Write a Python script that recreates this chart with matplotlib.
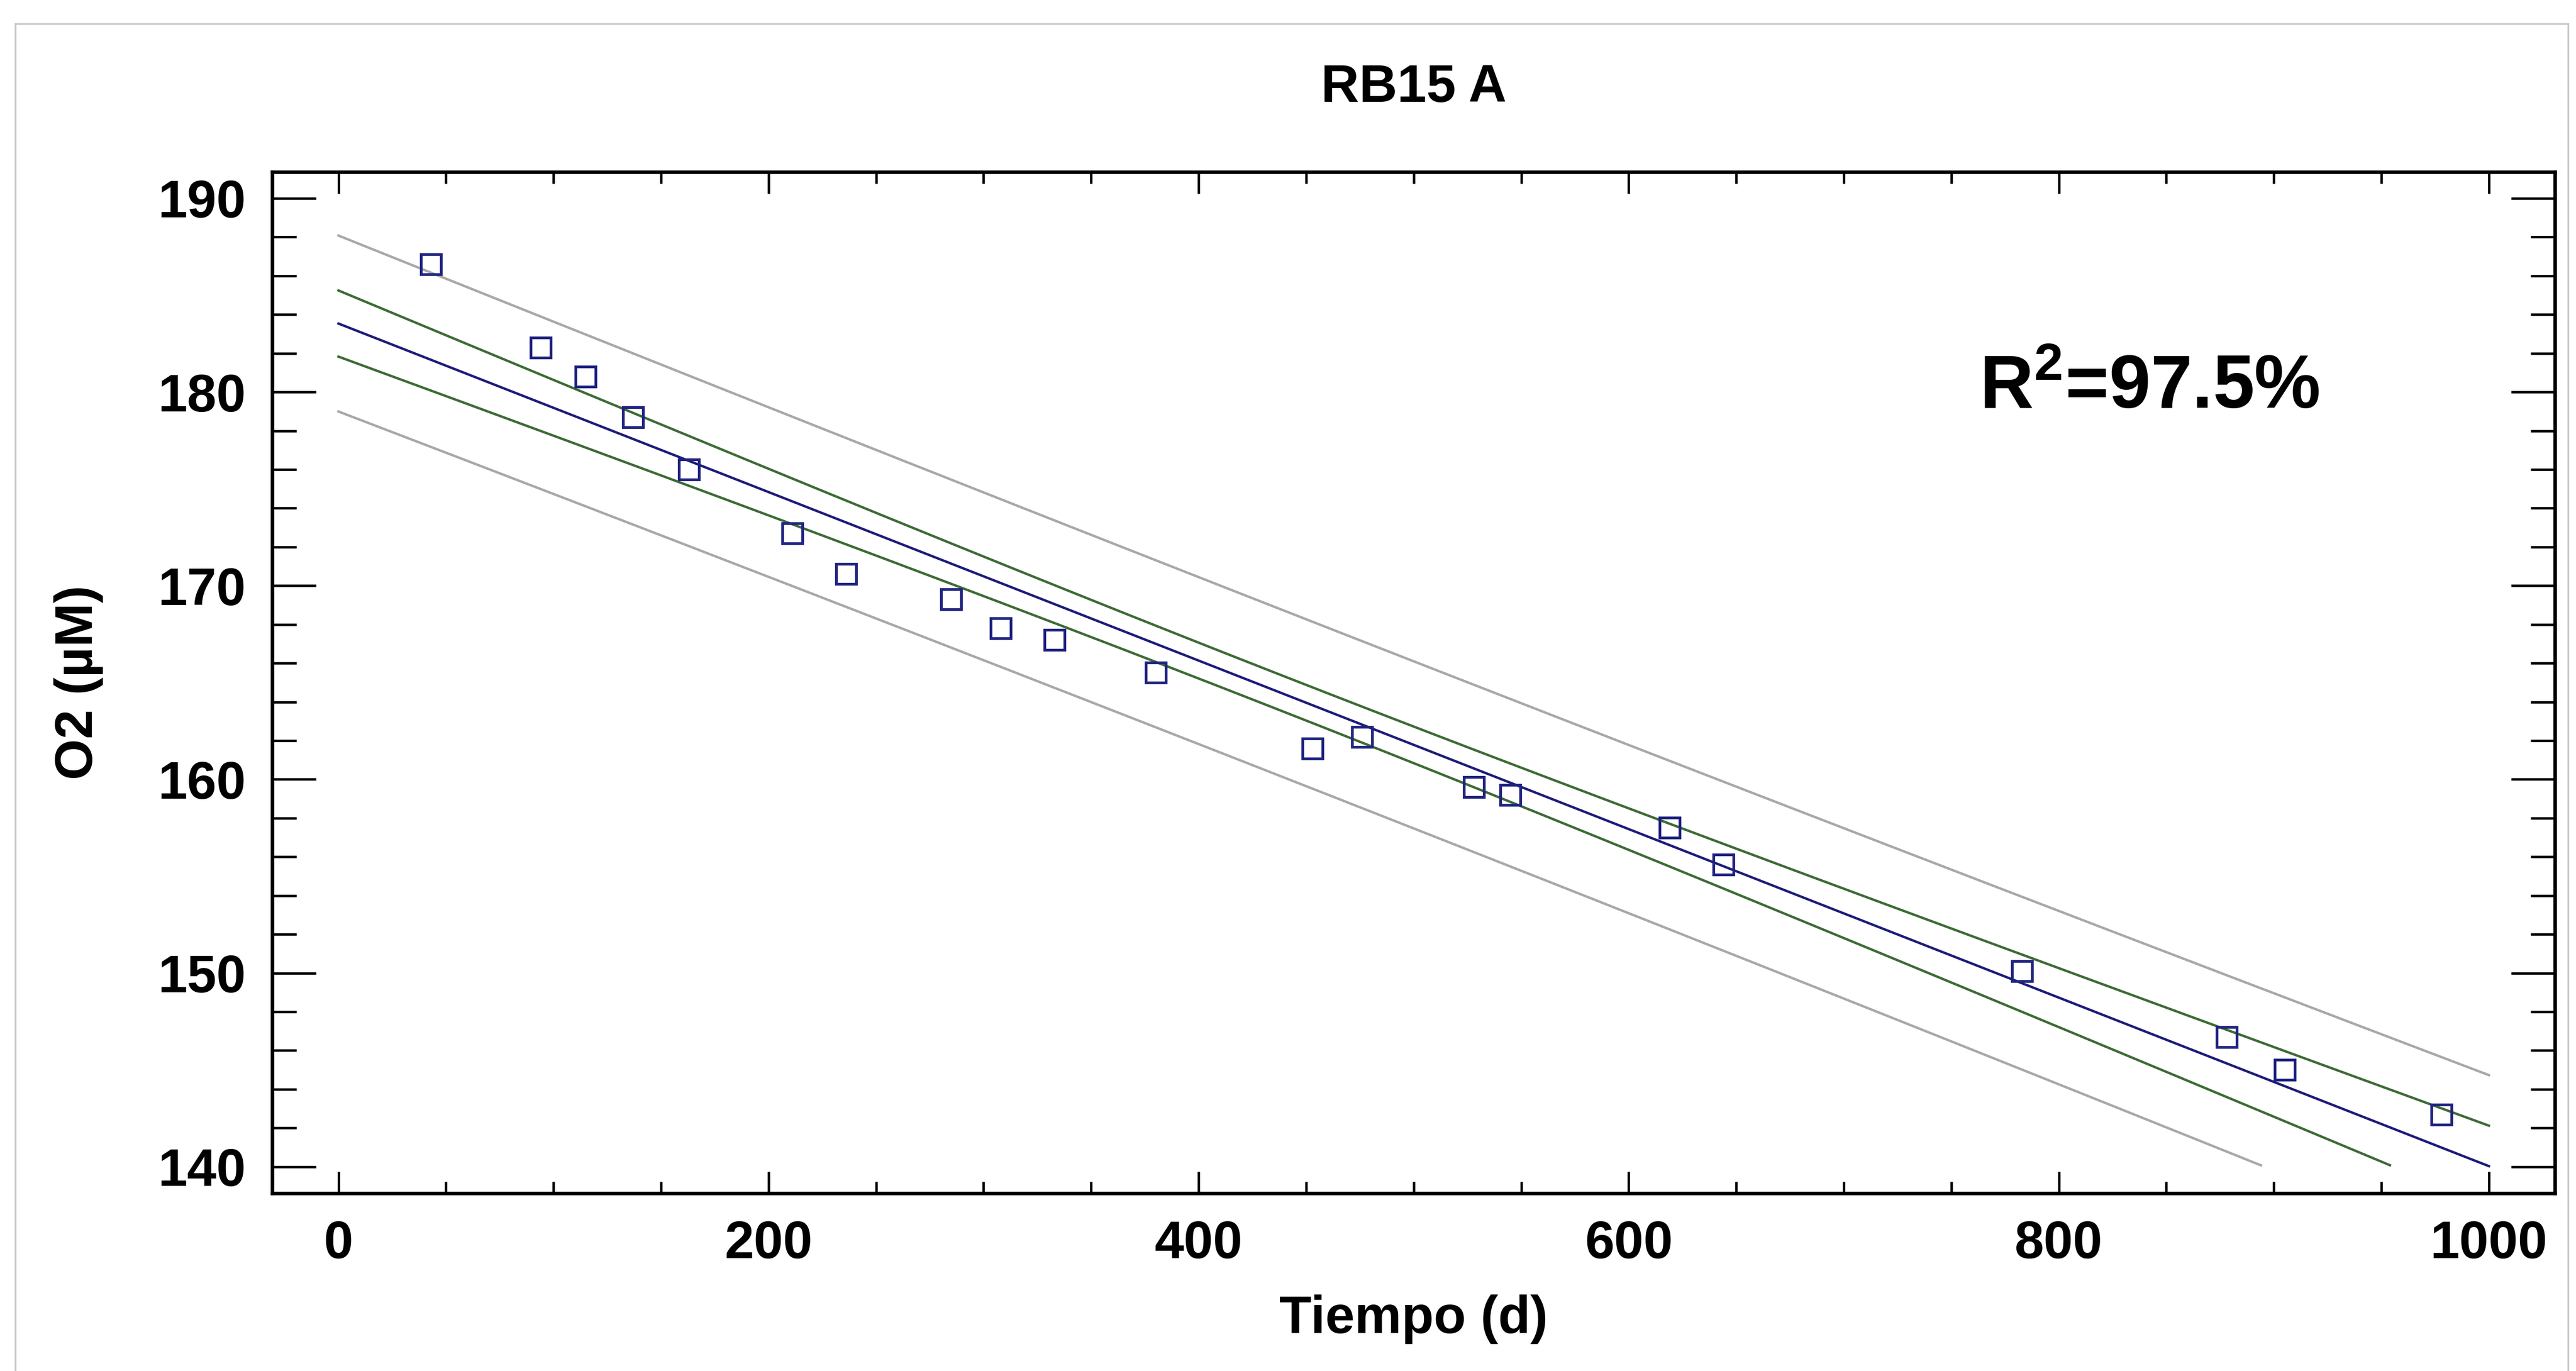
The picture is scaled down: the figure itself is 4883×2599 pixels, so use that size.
import numpy as np
import matplotlib
matplotlib.use("Agg")
import matplotlib.pyplot as plt
from matplotlib.patches import Rectangle
from matplotlib.ticker import MultipleLocator

plt.rcParams["font.family"] = ["Liberation Sans", "DejaVu Sans"]
plt.rcParams["font.weight"] = "bold"
plt.rcParams["mathtext.fontset"] = "custom"
plt.rcParams["mathtext.rm"] = "Liberation Sans:bold"
plt.rcParams["mathtext.it"] = "Liberation Sans:bold"
plt.rcParams["mathtext.bf"] = "Liberation Sans:bold"

# datos
titulo = "RB15 A"
tiempo = [43, 94, 115, 137, 163, 211, 236, 285, 308, 333, 380,
          453, 476, 528, 545, 619, 644, 783, 878, 905, 978]
o2 = [186.6, 182.3, 180.8, 178.7, 176.0, 172.7, 170.6, 169.3, 167.8, 167.2, 165.5,
      161.6, 162.2, 159.6, 159.2, 157.5, 155.6, 150.1, 146.7, 145.0, 142.7]
r2 = 97.5
t_95 = 2.093  # t de Student, 19 g.l.

x = np.array(tiempo, dtype=float)
y = np.array(o2)
n = len(x)

# ajuste lineal + limites de confianza y prediccion 95%
b, a = np.polyfit(x, y, 1)
resid = y - (a + b * x)
s = np.sqrt(np.sum(resid ** 2) / (n - 2))
sxx = np.sum((x - x.mean()) ** 2)

xg = np.linspace(0, 1000, 501)
yg = a + b * xg
conf = t_95 * s * np.sqrt(1 / n + (xg - x.mean()) ** 2 / sxx)
pred = t_95 * s * np.sqrt(1 + 1 / n + (xg - x.mean()) ** 2 / sxx)


def recorta(v):
    return np.where(v >= 140, v, np.nan)


fig = plt.figure(figsize=(4883 / 300, 2599 / 300), dpi=300)
ax = fig.add_axes([516 / 4883, 1 - 2262 / 2599, (4843 - 516) / 4883, (2262 - 326) / 2599])

ax.plot(xg, recorta(yg + pred), color="#a8a8a8", lw=1.1)
ax.plot(xg, recorta(yg - pred), color="#a8a8a8", lw=1.1)
ax.plot(xg, recorta(yg + conf), color="#3d6b35", lw=1.1)
ax.plot(xg, recorta(yg - conf), color="#3d6b35", lw=1.1)
ax.plot(xg, recorta(yg), color="#1c1c78", lw=1.1)
ax.plot(x, y, linestyle="none", marker="s", ms=9, mfc="none", mec="#1f2380", mew=1.25)

ax.set_xlim(-30.8, 1030.7)
ax.set_ylim(138.63, 191.36)
ax.xaxis.set_major_locator(MultipleLocator(200))
ax.xaxis.set_minor_locator(MultipleLocator(50))
ax.yaxis.set_major_locator(MultipleLocator(10))
ax.yaxis.set_minor_locator(MultipleLocator(2))

ax.tick_params(which="both", direction="in", top=True, right=True, width=1.1, colors="black")
ax.tick_params(axis="x", which="major", length=9.8, pad=12, labelsize=24)
ax.tick_params(axis="x", which="minor", length=5.3)
ax.tick_params(axis="y", which="major", length=20, pad=12, labelsize=24)
ax.tick_params(axis="y", which="minor", length=11)
for sp in ax.spines.values():
    sp.set_linewidth(1.6)

ax.set_title(titulo, fontsize=24, fontweight="bold", pad=32)
ax.set_xlabel("Tiempo (d)", fontsize=24, fontweight="bold")
ax.set_ylabel("O2 (µM)", fontsize=24, fontweight="bold")
ax.xaxis.set_label_coords(0.5, -0.099)
ax.yaxis.set_label_coords(-0.074, 0.5)

ax.text(763, 179.16, "R$^{2}$=" + f"{r2}%", fontsize=34, fontweight="bold",
        ha="left", va="baseline")

# marco gris de la ventana
fig.patches.append(Rectangle((29 / 4883, -0.05), (4868 - 29) / 4883, 1.05 - 45 / 2599,
                             transform=fig.transFigure, fill=False,
                             edgecolor="#c8c8c8", lw=0.8))

fig.savefig("out.png", dpi=300, facecolor="white")
